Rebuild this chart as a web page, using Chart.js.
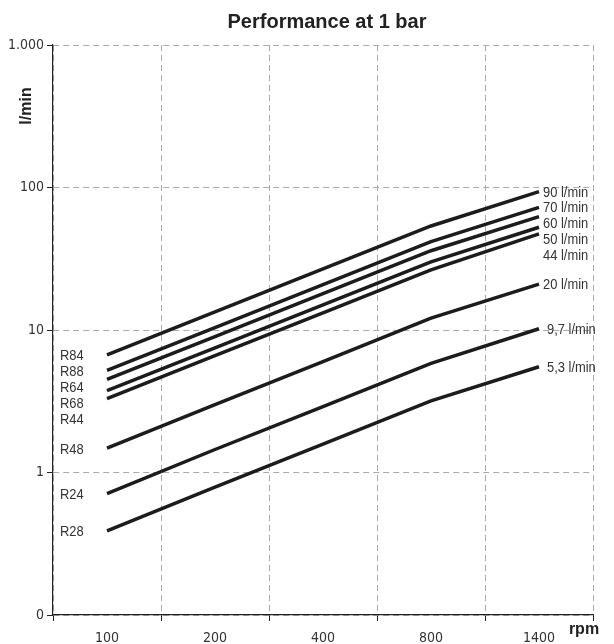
<!DOCTYPE html>
<html>
<head>
<meta charset="utf-8">
<script src="https://cdn.jsdelivr.net/npm/chart.js@4.4.1/dist/chart.umd.min.js"></script>
<style>
    html, body { margin: 0; padding: 0; background: #fff; }
    #wrap { width: 614px; height: 644px; }
</style>
</head>
<body>
<div id="wrap"><canvas id="chart" width="614" height="644"></canvas></div>
<script>
// ================== Data ==================
const rpm = ['100', '200', '400', '800', '1400'];

const flow90 = [6.7, 13.4, 26.8, 53.7, 93.5];
const flow70 = [5.2, 10.4, 20.8, 41.7, 72.6];
const flow60 = [4.5, 9.0, 18.0, 36.0, 62.4];
const flow50 = [3.75, 7.5, 15.0, 30.1, 52.6];
const flow44 = [3.3, 6.6, 13.2, 26.4, 47.2];
const flow20 = [1.48, 3.0, 6.0, 12.1, 21.0];
const flow97 = [0.71, 1.45, 2.9, 5.84, 10.2];
const flow53 = [0.39, 0.79, 1.58, 3.18, 5.52];

const pumpModels = ['R84', 'R88', 'R64', 'R68', 'R44', 'R48', 'R24', 'R28'];
const flowLabels = ['90 l/min', '70 l/min', '60 l/min', '50 l/min', '44 l/min', '20 l/min', '9,7 l/min', '5,3 l/min'];

const yTickValues = [0.1, 1, 10, 100, 1000];
const yTickLabels = ['0', '1', '10', '100', '1.000'];

const series = [flow90, flow70, flow60, flow50, flow44, flow20, flow97, flow53];

// ================== Styling ==================
const narrow = "'DejaVu Sans Condensed', 'DejaVu Sans', sans-serif";
const textColor = '#333';
const lineColor = '#1c1c1c';
const gridColor = '#aaa';

// schmale Schrift nachbilden: Liberation Sans horizontal gestaucht
function condensedText(ctx, text, x, y) {
    ctx.save();
    ctx.translate(x, y);
    ctx.scale(0.86, 1);
    ctx.fillText(text, 0, 0);
    ctx.restore();
}

// Texte rund um den Plot (Titel, Achsentitel, Kurvenbeschriftung)
const annotations = {
    id: 'annotations',
    afterDatasetsDraw(chart) {
        const { ctx, chartArea, scales: { x, y } } = chart;
        ctx.save();
        ctx.fillStyle = textColor;
        ctx.font = "15px 'Liberation Sans', Arial, sans-serif";
        ctx.textBaseline = 'middle';
        ctx.textAlign = 'left';

        // Modellnamen links, gestapelt neben dem Kurvenanfang
        let prev = -Infinity;
        series.forEach((s, i) => {
            const py = Math.max(y.getPixelForValue(s[0]) + 1.5, prev + 16);
            condensedText(ctx, pumpModels[i], chartArea.left + 7, py);
            prev = py;
        });

        // Förderleistung rechts, neben dem Kurvenende
        prev = -Infinity;
        series.forEach((s, i) => {
            const last = s.length - 1;
            const py = Math.max(y.getPixelForValue(s[last]) + 1, prev + 15.7);
            const indent = i >= 6 ? 8 : 4;
            condensedText(ctx, flowLabels[i], x.getPixelForValue(last) + indent, py);
            prev = py;
        });
        ctx.restore();
    },
    afterDraw(chart) {
        const { ctx, chartArea } = chart;
        ctx.save();
        ctx.fillStyle = '#222';
        ctx.textAlign = 'center';
        ctx.textBaseline = 'middle';

        ctx.font = "bold 20px 'Liberation Sans', Arial, sans-serif";
        ctx.fillText('Performance at 1 bar', (chartArea.left + chartArea.right) / 2 + 4, 22);

        ctx.font = "bold 16px 'Liberation Sans', Arial, sans-serif";
        ctx.save();
        ctx.translate(27, chartArea.top + 61);
        ctx.rotate(-Math.PI / 2);
        ctx.fillText('l/min', 0, 0);
        ctx.restore();

        ctx.textBaseline = 'alphabetic';
        ctx.fillText('rpm', chartArea.right - 9, 634);
        ctx.restore();
    }
};

// ================== Chart ==================
new Chart(document.getElementById('chart'), {
    type: 'line',
    data: {
        labels: rpm,
        datasets: series.map((s, i) => ({
            label: flowLabels[i],
            data: s,
            borderColor: lineColor,
            borderWidth: 3.5,
            borderCapStyle: 'butt',
            pointRadius: 0,
            tension: 0,
            fill: false
        }))
    },
    options: {
        responsive: false,
        animation: false,
        layout: { padding: { left: 0, top: 45, right: 21, bottom: 0 } },
        plugins: {
            legend: { display: false },
            title: { display: false },
            tooltip: { enabled: false }
        },
        scales: {
            x: {
                type: 'category',
                offset: true,
                grid: {
                    offset: true,
                    color: gridColor,
                    lineWidth: 1,
                    tickColor: '#222',
                    tickLength: 6,
                    tickBorderDash: [],
                    tickWidth: 1
                },
                border: { display: true, color: '#222', width: 1.2, dash: [6, 4] },
                ticks: {
                    color: textColor,
                    font: { family: narrow, size: 14 },
                    padding: 9,
                    maxRotation: 0
                },
                afterFit(scale) { scale.height = 29; }
            },
            y: {
                type: 'logarithmic',
                min: 0.1,
                max: 1000,
                afterBuildTicks(scale) {
                    scale.ticks = yTickValues.map(v => ({ value: v }));
                },
                grid: {
                    color: gridColor,
                    lineWidth: 1,
                    tickColor: '#222',
                    tickLength: 6,
                    tickBorderDash: [],
                    tickWidth: 1
                },
                border: { display: true, color: '#222', width: 1.2, dash: [6, 4] },
                ticks: {
                    color: textColor,
                    font: { family: narrow, size: 14 },
                    padding: 3,
                    callback(value) {
                        const idx = yTickValues.indexOf(value);
                        return idx >= 0 ? yTickLabels[idx] : '';
                    }
                },
                afterFit(scale) { scale.width = 53; }
            }
        }
    },
    plugins: [annotations]
});
</script>
</body>
</html>
